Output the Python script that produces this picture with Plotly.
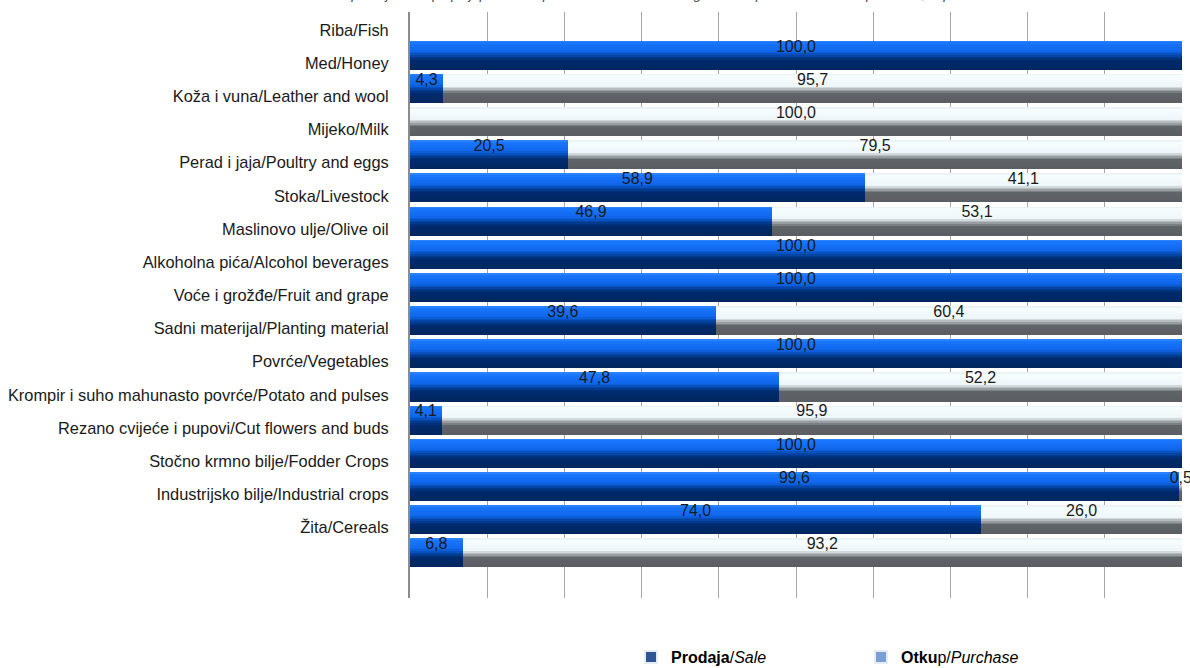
import plotly.graph_objects as go

categories = [
    "Riba/Fish", "Med/Honey", "Koža i vuna/Leather and wool", "Mijeko/Milk",
    "Perad i jaja/Poultry and eggs", "Stoka/Livestock", "Maslinovo ulje/Olive oil",
    "Alkoholna pića/Alcohol beverages", "Voće i grožđe/Fruit and grape",
    "Sadni materijal/Planting material", "Povrće/Vegetables",
    "Krompir i suho mahunasto povrće/Potato and pulses",
    "Rezano cvijeće i pupovi/Cut flowers and buds", "Stočno krmno bilje/Fodder Crops",
    "Industrijsko bilje/Industrial crops", "Žita/Cereals",
]
sale = [100.0, 4.3, 0.0, 20.5, 58.9, 46.9, 100.0, 100.0, 39.6, 100.0, 47.8, 4.1, 100.0, 99.6, 74.0, 6.8]
purchase = [0.0, 95.7, 100.0, 79.5, 41.1, 53.1, 0.0, 0.0, 60.4, 0.0, 52.2, 95.9, 0.0, 0.5, 26.0, 93.2]
x_ticks = [0, 10, 20, 30, 40, 50, 60, 70, 80, 90, 100]
series_names = ["<b>Prodaja</b>/<i>Sale</i>", "<b>Otku</b>p/<i>Purchase</i>"]

FONT = "Liberation Sans, Arial, sans-serif"

def hex2rgb(h):
    h = h.lstrip('#')
    return tuple(int(h[i:i + 2], 16) for i in (0, 2, 4))

def grad(stops, t):
    for (t0, c0), (t1, c1) in zip(stops, stops[1:]):
        if t0 <= t <= t1:
            f = 0 if t1 == t0 else (t - t0) / (t1 - t0)
            a, b = hex2rgb(c0), hex2rgb(c1)
            return "rgb(%d,%d,%d)" % tuple(round(a[k] + (b[k] - a[k]) * f) for k in range(3))
    return stops[-1][1]

blue_stops = [(0, '#3d8fff'), (0.05, '#1a78ff'), (0.38, '#0f66ea'), (0.56, '#023e96'),
              (0.68, '#002a6c'), (1, '#00275f')]
gray_stops = [(0, '#e0e6ea'), (0.05, '#f6feff'), (0.42, '#eef6f9'), (0.57, '#9ea4a8'),
              (0.69, '#5f6468'), (1, '#5b5f63')]

pos = list(range(len(categories)))
BAR_W = 0.86
N = 18
sw = BAR_W / N

fig = go.Figure()
for k in range(N):
    t = (k + 0.5) / N
    off = -BAR_W / 2 + k * sw
    fig.add_trace(go.Bar(
        y=pos, x=sale, base=[0] * len(sale), orientation='h', width=sw * 1.03, offset=off,
        marker=dict(color=grad(blue_stops, t), line=dict(width=0)),
        showlegend=False, hoverinfo='skip' if k else 'x+y', name="Prodaja/Sale"))
    fig.add_trace(go.Bar(
        y=pos, x=purchase, base=sale, orientation='h', width=sw * 1.03, offset=off,
        marker=dict(color=grad(gray_stops, t), line=dict(width=0)),
        showlegend=False, hoverinfo='skip' if k else 'x+y', name="Otkup/Purchase"))

# data labels
lx, ly, lt = [], [], []
for i, (s, p) in enumerate(zip(sale, purchase)):
    if s > 0:
        lx.append(s / 2); ly.append(i - 0.24); lt.append(("%.1f" % s).replace('.', ','))
    if p > 0:
        lx.append(s + p / 2); ly.append(i - 0.24); lt.append(("%.1f" % p).replace('.', ','))
fig.add_trace(go.Scatter(x=lx, y=ly, text=lt, mode='text', textposition='middle center',
                         textfont=dict(family=FONT, size=16, color='#1a1a1a'),
                         showlegend=False, hoverinfo='skip', cliponaxis=False))

# legend entries
fig.add_trace(go.Bar(x=[None], y=[None], orientation='h', marker_color='#2F5597',
                     name=series_names[0]))
fig.add_trace(go.Bar(x=[None], y=[None], orientation='h', marker_color='#7A9FD6',
                     name=series_names[1]))

cat_h = 33.17
top_px, bot_px, first_c = 12, 598, 55.5
y_top = (top_px - first_c) / cat_h
y_bot = (bot_px - first_c) / cat_h

fig.add_shape(type='rect', xref='paper', yref='y', x0=0, x1=1, y0=y_top, y1=-BAR_W / 2,
              fillcolor='white', line=dict(width=0), layer='between')

fig.add_annotation(text="<i>Struktura prodaje i otkupa poljoprivrednih proizvoda / Structure of agricultural products sale and purchase, in percent</i>",
                   xref='paper', yref='paper', x=(641 - 410) / 772, xanchor='center',
                   y=1, yanchor='bottom', yshift=8,
                   showarrow=False, font=dict(family="Liberation Sans", size=13.5, color='#444'))

fig.update_layout(
    width=1190, height=668,
    margin=dict(l=410, r=8, t=top_px, b=668 - bot_px, autoexpand=False),
    paper_bgcolor='white', plot_bgcolor='white',
    barmode='overlay', bargap=0,
    font=dict(family=FONT, size=16, color='#1a1a1a'),
    xaxis=dict(range=[0, 100], tickvals=x_ticks, showticklabels=False, showgrid=True,
               gridcolor='#a6a6a6', gridwidth=1, zeroline=False, showline=False, ticks='',
               automargin=False),
    yaxis=dict(range=[y_bot, y_top], tickvals=[i - 0.77 for i in pos], ticktext=categories,
               showgrid=False, zeroline=False, showline=True, linecolor='#8c8c8c', linewidth=2,
               ticks='', ticklabelstandoff=16, automargin=False,
               tickfont=dict(family=FONT, size=16.4, color='#1a1a1a')),
    legend=dict(orientation='h', x=(631 - 410) / 772, xanchor='left', yref='container',
                y=(668 - 657) / 668, yanchor='middle',
                font=dict(family=FONT, size=16, color='#000'), entrywidth=185,
                entrywidthmode='pixels', traceorder='normal', itemsizing='constant'),
    showlegend=True,
)

fig.write_html("out.html", config={"displayModeBar": False},
               post_script="document.body.style.margin='0';document.body.style.overflow='hidden';")
